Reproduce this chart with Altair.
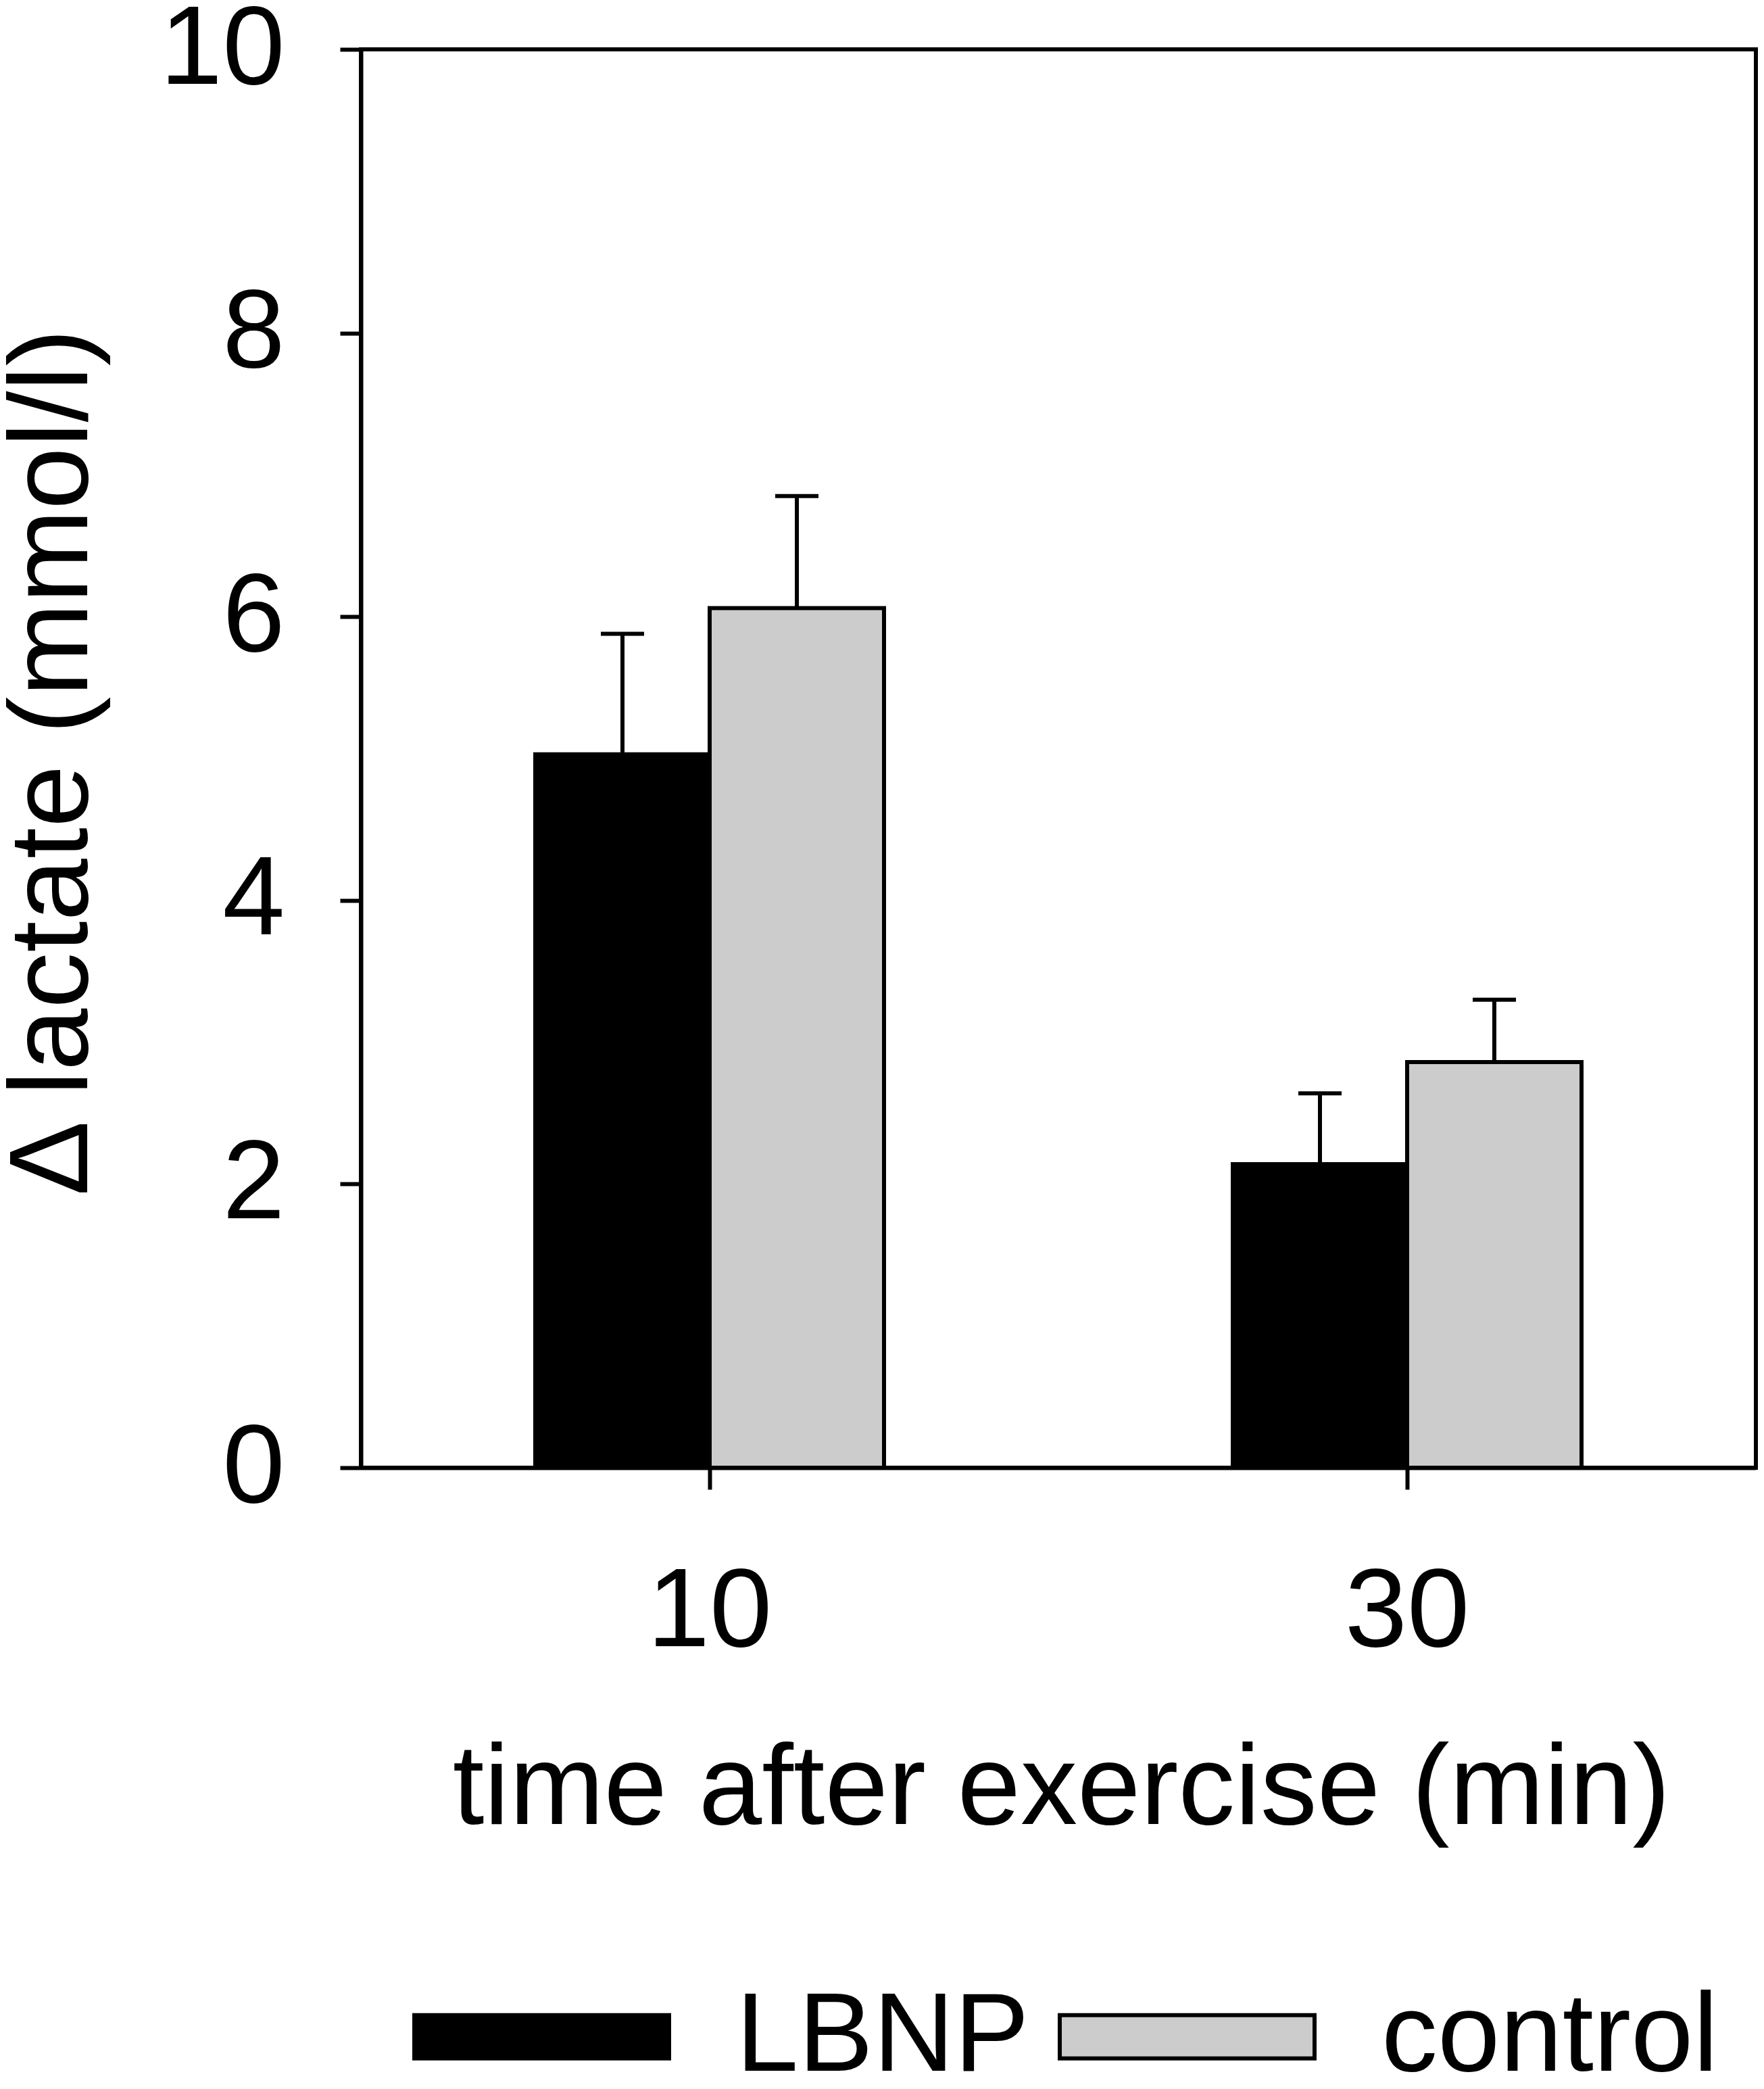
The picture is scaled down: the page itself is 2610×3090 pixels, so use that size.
import altair as alt
import pandas as pd

# ---- data ----
times = ["10", "30"]
groups = ["LBNP", "control"]
lbnp_mean = [5.03, 2.14]
lbnp_sem = [0.85, 0.50]
control_mean = [6.06, 2.86]
control_sem = [0.79, 0.44]
y_ticks = [0, 2, 4, 6, 8, 10]
bar_colors = ["#000000", "#cccccc"]

rows = []
for i, t in enumerate(times):
    rows.append({"time": t, "group": groups[0], "mean": lbnp_mean[i],
                 "upper": lbnp_mean[i] + lbnp_sem[i]})
    rows.append({"time": t, "group": groups[1], "mean": control_mean[i],
                 "upper": control_mean[i] + control_sem[i]})
df = pd.DataFrame(rows)

FONT = "Liberation Sans"
W, H = 2064, 2098
YTITLE = "\u0394 lactate (mmol/l)"
LW = 6

x_enc = alt.X(
    "time:N", sort=times,
    scale=alt.Scale(paddingInner=0.5, paddingOuter=0.25),
    axis=alt.Axis(title="time after exercise (min)", labelAngle=0,
                  labelFontSize=166, labelPadding=100, tickSize=32,
                  labelLimit=2000,
                  titleFontSize=168, titleX=1036, titleY=526,
                  titleBaseline="alphabetic", titleAlign="center"),
)
xoff = alt.XOffset("group:N", sort=groups,
                   scale=alt.Scale(paddingInner=0, paddingOuter=0))
y_axis = alt.Axis(values=y_ticks, title=YTITLE, labelFontSize=166,
                  labelPadding=82, tickSize=31, labelLimit=2000,
                  titleFontSize=166,
                  titleAngle=270, titleX=-406, titleY=1054,
                  titleBaseline="alphabetic", titleAlign="center")
y_scale = alt.Scale(domain=[0, 10], nice=False)

base = alt.Chart(df)

bars = base.mark_bar(stroke="black", strokeWidth=LW).encode(
    x=x_enc,
    xOffset=xoff,
    y=alt.Y("mean:Q", scale=y_scale, axis=y_axis, title=YTITLE),
    color=alt.Color(
        "group:N", sort=groups,
        scale=alt.Scale(domain=groups, range=bar_colors),
        legend=alt.Legend(
            title=None, orient="none", legendX=76, legendY=2748,
            direction="horizontal", padding=0,
            symbolType="M-1,-0.17H1V0.17H-1Z", symbolSize=142129,
            symbolStrokeColor="black", symbolStrokeWidth=LW,
            symbolOpacity=1,
            labelFontSize=166, labelFont=FONT, labelColor="black",
            labelOffset=96, columnPadding=33, labelLimit=2000,
        ),
    ),
)

whiskers = base.mark_rule(color="black", strokeWidth=LW).encode(
    x=x_enc,
    xOffset=xoff,
    y=alt.Y("mean:Q", scale=y_scale, axis=y_axis, title=YTITLE),
    y2="upper:Q",
)

caps = base.mark_tick(color="black", thickness=LW, size=64, opacity=1).encode(
    x=x_enc,
    xOffset=xoff,
    y=alt.Y("upper:Q", scale=y_scale, axis=y_axis, title=YTITLE),
)

chart = (
    alt.layer(bars, whiskers, caps)
    .properties(
        width=W, height=H,
        autosize=alt.AutoSizeParams(type="none"),
        padding={"left": 526, "top": 65, "right": 4, "bottom": 905},
        background="white",
    )
    .configure_view(stroke="black", strokeWidth=LW)
    .configure_axis(
        grid=False, domainColor="black", domainWidth=LW,
        tickColor="black", tickWidth=LW,
        labelColor="black", titleColor="black",
        labelFont=FONT, titleFont=FONT, titleFontWeight="normal",
    )
)

chart.save("out.html", embed_options={"renderer": "svg", "actions": False})
